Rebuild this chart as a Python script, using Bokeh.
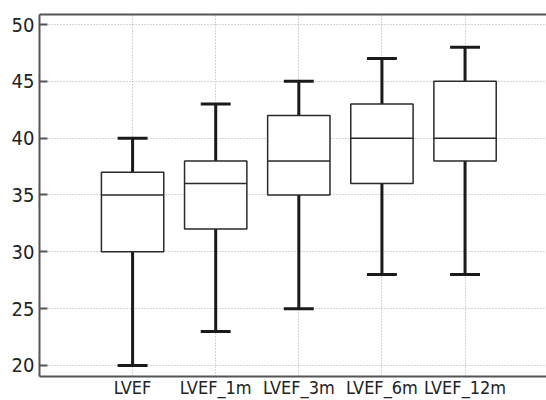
from bokeh.plotting import figure
from bokeh.models import FixedTicker, LinearAxis, Range1d, ColumnDataSource
from bokeh.embed import file_html
from bokeh.resources import INLINE

categories = ["LVEF", "LVEF_1m", "LVEF_3m", "LVEF_6m", "LVEF_12m"]
whisker_low = [20, 23, 25, 28, 28]
q1 = [30, 32, 35, 36, 38]
median = [35, 36, 38, 40, 40]
q3 = [37, 38, 42, 43, 45]
whisker_high = [40, 43, 45, 47, 48]
y_ticks = [20, 25, 30, 35, 40, 45, 50]

pos = list(range(1, len(categories) + 1))
box_w = 0.75
cap_w = 0.36

src = ColumnDataSource(dict(
    x=pos, lo=whisker_low, q1=q1, med=median, q3=q3, hi=whisker_high,
    cl=[p - cap_w / 2 for p in pos], cr=[p + cap_w / 2 for p in pos],
    bl=[p - box_w / 2 for p in pos], br=[p + box_w / 2 for p in pos],
))

FONT = "DejaVu Sans Condensed"

p = figure(width=546, height=400, output_backend="svg", toolbar_location=None,
           x_range=Range1d(-0.12, 5.98), y_range=Range1d(19.03, 50.88),
           min_border_left=39, min_border_right=0, min_border_top=14, min_border_bottom=23)
p.outline_line_color = None
p.background_fill_color = "white"

# whiskers
p.segment(x0="x", y0="lo", x1="x", y1="q1", source=src, line_color="#1a1a1a", line_width=3)
p.segment(x0="x", y0="q3", x1="x", y1="hi", source=src, line_color="#1a1a1a", line_width=3)
# caps
p.segment(x0="cl", y0="lo", x1="cr", y1="lo", source=src, line_color="#1a1a1a", line_width=3)
p.segment(x0="cl", y0="hi", x1="cr", y1="hi", source=src, line_color="#1a1a1a", line_width=3)
# boxes
p.vbar(x="x", width=box_w, bottom="q1", top="q3", source=src,
       fill_color="white", line_color="#2a2a2a", line_width=1.5)
# medians
p.segment(x0="bl", y0="med", x1="br", y1="med", source=src, line_color="#2a2a2a", line_width=1.5)

# axes
p.xaxis.ticker = FixedTicker(ticks=pos)
p.xaxis.major_label_overrides = {p_: c for p_, c in zip(pos, categories)}
p.xaxis.major_tick_line_color = None
p.xaxis.minor_tick_line_color = None
p.xaxis.major_tick_in = 0
p.xaxis.major_tick_out = 0
p.xaxis.major_label_standoff = 0
p.yaxis.ticker = FixedTicker(ticks=y_ticks)
p.yaxis.major_tick_in = 8
p.yaxis.major_tick_out = 0
p.yaxis.minor_tick_line_color = None
p.yaxis.major_label_standoff = 5
for ax in (p.xaxis[0], p.yaxis[0]):
    ax.axis_line_color = "#555555"
    ax.axis_line_width = 2
    ax.major_tick_line_width = 2
    ax.major_label_text_font = FONT
    ax.major_label_text_font_size = "18px"
    ax.major_label_text_color = "#222222"
p.yaxis.major_tick_line_color = "#555555"
p.yaxis.major_label_text_font_size = "20px"

top = LinearAxis(ticker=FixedTicker(ticks=[]), axis_line_color="#555555", axis_line_width=2,
                 major_tick_line_color=None, minor_tick_line_color=None,
                 major_tick_in=0, major_tick_out=0,
                 major_label_text_font_size="0px")
p.add_layout(top, "above")

# grids
p.xgrid.ticker = FixedTicker(ticks=pos)
p.ygrid.ticker = FixedTicker(ticks=y_ticks)
for g in (p.xgrid[0], p.ygrid[0]):
    g.grid_line_color = "#aaaaaa"
    g.grid_line_dash = "1 2"
    g.grid_line_width = 1

open("out.html", "w").write(file_html(p, INLINE))
